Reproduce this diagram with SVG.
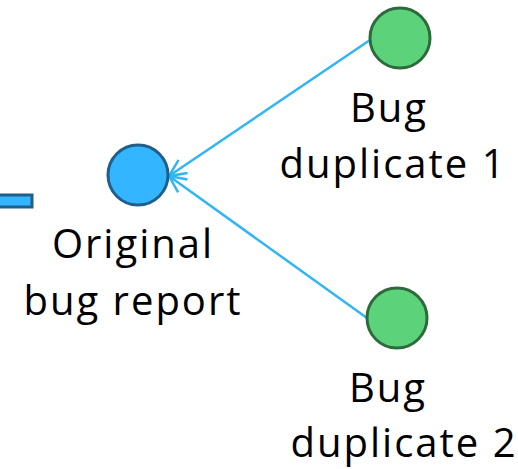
<svg xmlns="http://www.w3.org/2000/svg" width="518" height="469" viewBox="0 0 518 469">
<defs>
<style>
.lbl{font-family:"Open Sans","Noto Sans",sans-serif;font-size:40px;letter-spacing:2px;fill:#000;text-anchor:middle}
.edge{stroke:#33b5f5;stroke-width:2.5;fill:none}
.blue{fill:#33b5ff;stroke:#1f5f8a;stroke-width:3}
.green{fill:#5cd37a;stroke:#2e6b3c;stroke-width:3}
</style>
<marker id="arr" viewBox="0 0 20 20" refX="19" refY="10" markerWidth="20" markerHeight="20" markerUnits="userSpaceOnUse" orient="auto">
<path d="M2,2 L19,10 L2,18" fill="none" stroke="#33b5f5" stroke-width="2.5"/>
</marker>
</defs>
<g id="connectors">
<line class="edge" x1="370" y1="40" x2="169" y2="176" marker-end="url(#arr)"/>
<line class="edge" x1="367" y1="318" x2="169" y2="176" marker-end="url(#arr)"/>
</g>
<g id="stub">
<rect class="blue" x="-5" y="195" width="37" height="12"/>
</g>
<g id="original">
<circle class="blue" cx="138" cy="175" r="30"/>
<text class="lbl" x="133" y="258">Original</text>
<text class="lbl" x="133" y="315">bug report</text>
</g>
<g id="dup1">
<circle class="green" cx="400" cy="38" r="30"/>
<text class="lbl" x="389" y="122">Bug</text>
<text class="lbl" x="393" y="178">duplicate 1</text>
</g>
<g id="dup2">
<circle class="green" cx="397" cy="318" r="30"/>
<text class="lbl" x="388" y="402">Bug</text>
<text class="lbl" x="404" y="457">duplicate 2</text>
</g>
</svg>
